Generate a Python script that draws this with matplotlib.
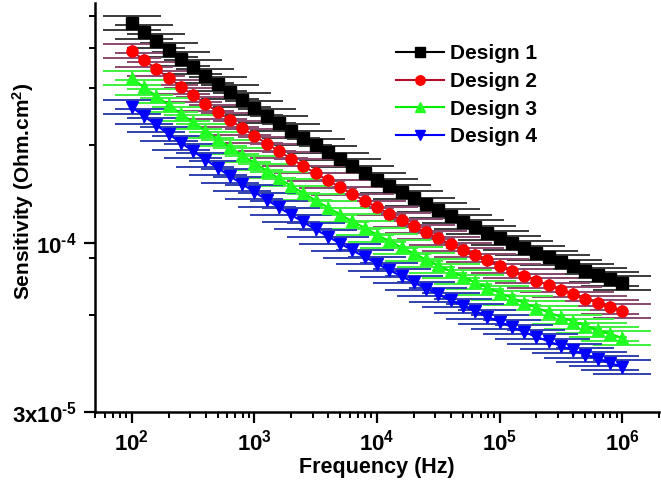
import matplotlib
matplotlib.use("Agg")
import matplotlib.pyplot as plt
from matplotlib.ticker import FixedLocator, NullFormatter, FixedFormatter

plt.rcParams['font.family'] = ['Liberation Sans', 'DejaVu Sans']
plt.rcParams['font.weight'] = 'bold'
plt.rcParams['mathtext.fontset'] = 'custom'
plt.rcParams['mathtext.rm'] = 'Liberation Sans:bold'
plt.rcParams['mathtext.bf'] = 'Liberation Sans:bold'
plt.rcParams['mathtext.it'] = 'Liberation Sans:bold'

freq = [100, 125.9, 158.5, 199.5, 251.2, 316.2, 398.1, 501.2, 631.0, 794.3,
        1e3, 1259, 1585, 1995, 2512, 3162, 3981, 5012, 6310, 7943,
        1e4, 12590, 15850, 19950, 25120, 31620, 39810, 50120, 63100, 79430,
        1e5, 125900, 158500, 199500, 251200, 316200, 398100, 501200, 631000, 794300,
        1e6]

design1 = [4.767, 4.468, 4.194, 3.938, 3.702, 3.485, 3.281, 3.094, 2.920, 2.758,
           2.608, 2.468, 2.337, 2.216, 2.103, 1.998, 1.900, 1.808, 1.722, 1.642,
           1.567, 1.497, 1.432, 1.371, 1.313, 1.259, 1.209, 1.161, 1.117, 1.075,
           1.036, 0.999, 0.964, 0.932, 0.901, 0.872, 0.845, 0.820, 0.796, 0.773,
           0.752]
design2 = [3.909, 3.664, 3.439, 3.229, 3.036, 2.858, 2.690, 2.537, 2.394, 2.262,
           2.139, 2.024, 1.916, 1.817, 1.724, 1.638, 1.558, 1.483, 1.412, 1.346,
           1.285, 1.228, 1.174, 1.124, 1.077, 1.032, 0.991, 0.952, 0.916, 0.882,
           0.850, 0.819, 0.791, 0.764, 0.739, 0.715, 0.693, 0.672, 0.653, 0.634,
           0.617]
design3 = [3.222, 3.020, 2.835, 2.662, 2.503, 2.356, 2.218, 2.092, 1.974, 1.864,
           1.763, 1.668, 1.580, 1.498, 1.422, 1.351, 1.284, 1.222, 1.164, 1.110,
           1.059, 1.012, 0.968, 0.927, 0.888, 0.851, 0.817, 0.785, 0.755, 0.727,
           0.700, 0.675, 0.652, 0.630, 0.609, 0.590, 0.571, 0.554, 0.538, 0.523,
           0.508]
design4 = [2.622, 2.457, 2.307, 2.166, 2.036, 1.917, 1.805, 1.702, 1.606, 1.517,
           1.434, 1.357, 1.285, 1.219, 1.157, 1.099, 1.045, 0.994, 0.947, 0.903,
           0.862, 0.823, 0.788, 0.754, 0.722, 0.692, 0.665, 0.639, 0.614, 0.591,
           0.570, 0.549, 0.530, 0.512, 0.496, 0.480, 0.465, 0.451, 0.438, 0.425,
           0.414]
series_scale = 1e-4
rel_err = 0.05

labels = ['Design 1', 'Design 2', 'Design 3', 'Design 4']
data = [design1, design2, design3, design4]
markers = ['s', 'o', '^', 'v']
line_colors = ['#000000', '#b0102e', '#00ee00', '#0000ff']
face_colors = ['#000000', '#ff0000', '#22ff22', '#0000ff']
err_colors = ['#3a3a3a', '#8a4a6e', '#40f040', '#3040b0']

x_tick_vals = [1e2, 1e3, 1e4, 1e5, 1e6]
x_tick_labels = [r'$\mathbf{10^{2}}$', r'$\mathbf{10^{3}}$', r'$\mathbf{10^{4}}$',
                 r'$\mathbf{10^{5}}$', r'$\mathbf{10^{6}}$']
y_tick_vals = [3e-5, 1e-4]
y_tick_labels = [r'$\mathbf{3x10^{\text{-}5}}$', r'$\mathbf{10^{\text{-}4}}$']
y_minor_vals = [6e-5, 9e-5, 2e-4, 3e-4, 4e-4, 5e-4]

fig = plt.figure(figsize=(6.61, 4.82), dpi=100)
ax = fig.add_axes([0.1437, 0.1452, 0.8533, 0.8486])

for vals, lab, mk, lc, fc, ec in zip(data, labels, markers, line_colors, face_colors, err_colors):
    y = [v * series_scale for v in vals]
    yerr = [v * rel_err for v in y]
    ax.errorbar(freq, y, yerr=yerr, fmt='none', ecolor=ec, elinewidth=1.2,
                capsize=21, capthick=1.4, zorder=2)
    ax.plot(freq, y, color=lc, lw=1.5, marker=mk, markersize=8,
            markerfacecolor=fc, markeredgecolor=fc, label=lab, zorder=3)

ax.set_xscale('log')
ax.set_yscale('log')
ax.set_xlim(50, 2e6)
ax.set_ylim(3e-5, 5.5e-4)

ax.xaxis.set_major_locator(FixedLocator(x_tick_vals))
ax.xaxis.set_major_formatter(FixedFormatter(x_tick_labels))
xminor = [m * 10 ** e for e in range(1, 7) for m in range(2, 10)]
ax.xaxis.set_minor_locator(FixedLocator(xminor))
ax.xaxis.set_minor_formatter(NullFormatter())

ax.yaxis.set_major_locator(FixedLocator(y_tick_vals))
ax.yaxis.set_major_formatter(FixedFormatter(y_tick_labels))
ax.yaxis.set_minor_locator(FixedLocator(y_minor_vals))
ax.yaxis.set_minor_formatter(NullFormatter())

ax.tick_params(which='major', direction='out', length=8, width=1.6, labelsize=16, pad=5)
ax.tick_params(which='minor', direction='out', length=4.5, width=1.4)

for s in ['top', 'right']:
    ax.spines[s].set_visible(False)
for s in ['left', 'bottom']:
    ax.spines[s].set_linewidth(1.8)

ax.set_xlabel('Frequency (Hz)', fontsize=15.5, fontweight='bold', labelpad=1)
ax.set_ylabel(r'Sensitivity (Ohm.cm$\mathbf{^{2}}$)', fontsize=15, fontweight='bold')
ax.yaxis.set_label_coords(-0.104, 0.54)

leg = ax.legend(loc='upper left', bbox_to_anchor=(0.50, 0.945), frameon=False,
                prop={'size': 15, 'weight': 'bold'}, handlelength=2.3,
                handletextpad=0.3, labelspacing=0.42, markerscale=0.85)

fig.savefig('out.png', dpi=100)
